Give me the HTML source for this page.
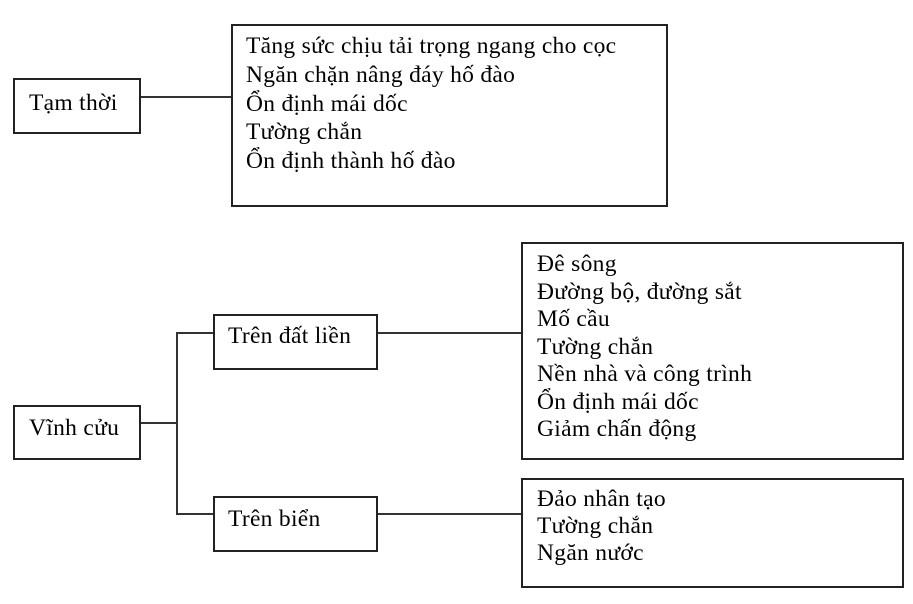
<!DOCTYPE html>
<html><head><meta charset="utf-8"><style>
body{margin:0;width:913px;height:604px;background:#fff;position:relative;overflow:hidden;font-family:"Liberation Serif",serif;font-size:23.5px;letter-spacing:0.3px;color:#000}
.b{position:absolute;border:2px solid #222;box-sizing:border-box}
.l{position:absolute;background:#333}
.t{position:absolute;white-space:nowrap;line-height:28px}
</style></head><body>
<div class="b" style="left:13px;top:78px;width:128px;height:56px"></div>
<div class="t" style="left:29px;top:89px">Tạm thời</div>
<div class="l" style="left:141px;top:96px;width:90px;height:2px"></div>
<div class="b" style="left:231px;top:24px;width:437px;height:183px"></div>
<div class="t" style="left:246px;top:32px;line-height:28.8px">Tăng sức chịu tải trọng ngang cho cọc<br>Ngăn chặn nâng đáy hố đào<br>Ổn định mái dốc<br>Tường chắn<br>Ổn định thành hố đào</div>

<div class="b" style="left:13px;top:405px;width:128px;height:55px"></div>
<div class="t" style="left:29px;top:414px">Vĩnh cửu</div>
<div class="l" style="left:141px;top:422px;width:36px;height:2px"></div>
<div class="l" style="left:176px;top:332px;width:2px;height:183px"></div>
<div class="l" style="left:176px;top:332px;width:37px;height:2px"></div>
<div class="l" style="left:176px;top:513px;width:37px;height:2px"></div>
<div class="b" style="left:213px;top:314px;width:165px;height:56px"></div>
<div class="t" style="left:228px;top:322px">Trên đất liền</div>
<div class="b" style="left:213px;top:496px;width:165px;height:56px"></div>
<div class="t" style="left:228px;top:505px">Trên biển</div>
<div class="l" style="left:378px;top:332px;width:143px;height:2px"></div>
<div class="l" style="left:378px;top:513px;width:143px;height:2px"></div>
<div class="b" style="left:521px;top:242px;width:383px;height:218px"></div>
<div class="t" style="left:537px;top:251px;line-height:27.5px">Đê sông<br>Đường bộ, đường sắt<br>Mố cầu<br>Tường chắn<br>Nền nhà và công trình<br>Ổn định mái dốc<br>Giảm chấn động</div>
<div class="b" style="left:521px;top:478px;width:383px;height:110px"></div>
<div class="t" style="left:537px;top:486px;line-height:27px">Đảo nhân tạo<br>Tường chắn<br>Ngăn nước</div>
</body></html>
